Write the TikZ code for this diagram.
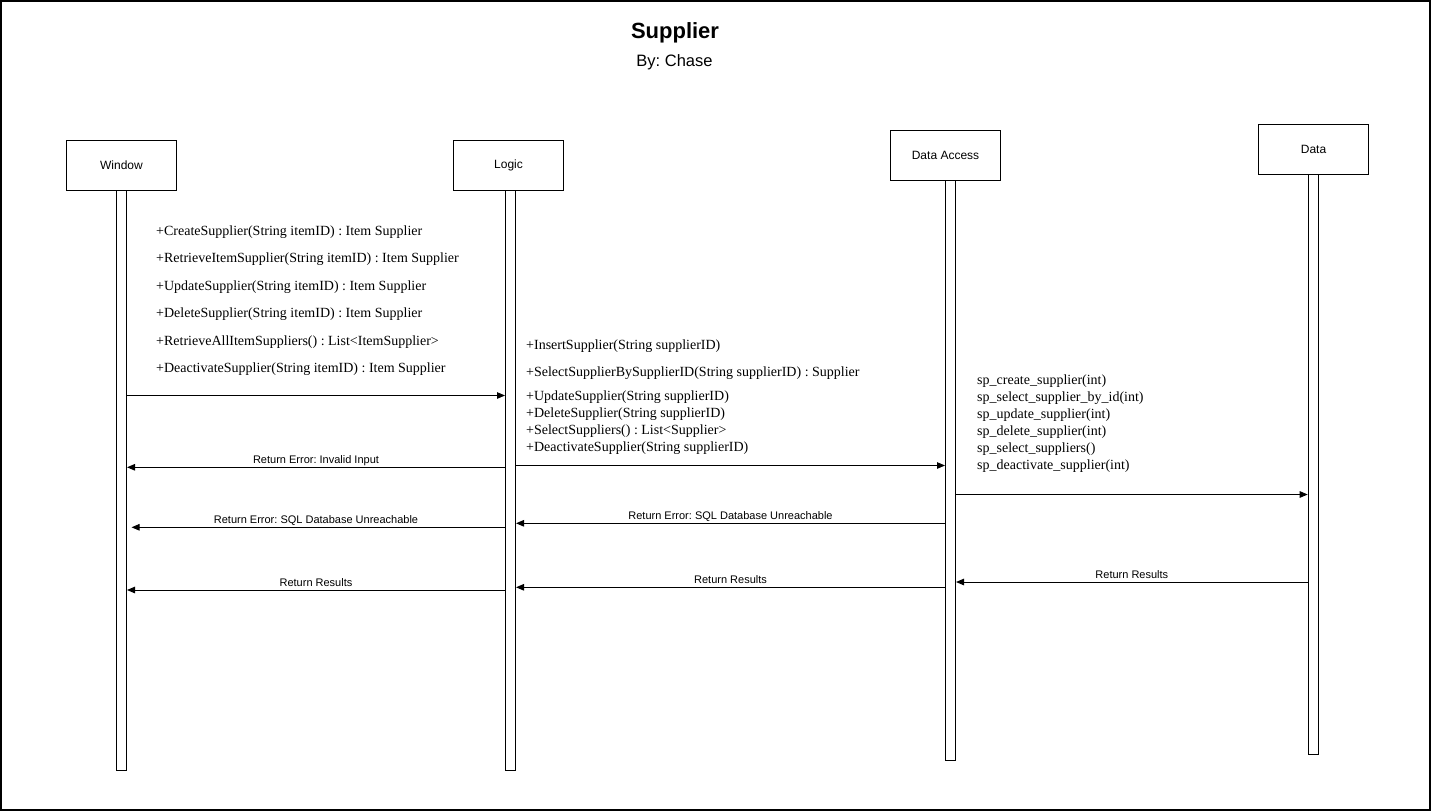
\documentclass[tikz,border=0pt]{standalone}
\usepackage{fontspec}
\setmainfont{Liberation Serif}
\setsansfont{Liberation Sans}
\usetikzlibrary{arrows.meta}
\frenchspacing
\begin{document}
\begin{tikzpicture}[x=1pt,y=-1pt,
  actor/.style={draw, line width=1pt, minimum width=110pt, minimum height=50pt,
    inner sep=0pt, anchor=north west, font=\sffamily\fontsize{12}{14}\selectfont},
  lifebar/.style={draw, line width=1pt, fill=white, minimum width=10pt,
    inner sep=0pt, anchor=north},
  msg/.style={line width=1pt, -{Triangle[length=8pt,width=6.5pt]}},
  lbl/.style={font=\sffamily\fontsize{11}{13}\selectfont, inner sep=0pt,
    anchor=base, midway, yshift=4pt},
  op/.style={font=\fontsize{14}{16}\selectfont, inner sep=0pt, anchor=base west},
]
% page frame
\draw[line width=2pt, fill=white] (1,1) rectangle (1430,810);
\useasboundingbox (0,0) rectangle (1431,811);

% heading
\node[font=\sffamily\bfseries\fontsize{22}{26}\selectfont, anchor=base, inner sep=0pt]
  (title) at (675,38.3) {Supplier};
\node[font=\sffamily\fontsize{16.5}{19}\selectfont, anchor=base, inner sep=0pt]
  (author) at (674.5,66.5) {By: Chase};

% participants
\node[actor] (win)  at (66,140)   {Window};
\node[actor] (log)  at (453,140)  {Logic};
\node[actor] (dacc) at (890,130)  {Data Access};
\node[actor] (dat)  at (1258,124) {Data};

% lifelines
\node[lifebar, minimum height=580pt] (wbar) at (121.5,190)  {};
\node[lifebar, minimum height=580pt] (lbar) at (510.5,190)  {};
\node[lifebar, minimum height=580pt] (abar) at (950.5,180)  {};
\node[lifebar, minimum height=580pt] (dbar) at (1313.2,174) {};

% Window operations
\node[op] (w1) at (156,235.5) {+CreateSupplier(String itemID) : Item Supplier};
\node[op] (w2) at (156,262.5) {+RetrieveItemSupplier(String itemID) : Item Supplier};
\node[op] (w3) at (156,290)   {+UpdateSupplier(String itemID) : Item Supplier};
\node[op] (w4) at (156,317.5) {+DeleteSupplier(String itemID) : Item Supplier};
\node[op] (w5) at (156,345)   {+RetrieveAllItemSuppliers() : List<ItemSupplier>};
\node[op] (w6) at (156,372.5) {+DeactivateSupplier(String itemID) : Item Supplier};

% Logic operations
\node[op] (l1) at (526,349.5) {+InsertSupplier(String supplierID)};
\node[op] (l2) at (526,376)   {+SelectSupplierBySupplierID(String supplierID) : Supplier};
\node[op] (l3) at (526,400.5) {+UpdateSupplier(String supplierID)};
\node[op] (l4) at (526,417.5) {+DeleteSupplier(String supplierID)};
\node[op] (l5) at (526,434.5) {+SelectSuppliers() : List<Supplier>};
\node[op] (l6) at (526,451.5) {+DeactivateSupplier(String supplierID)};

% stored procedures
\node[op] (s1) at (977,384.5) {sp\_create\_supplier(int)};
\node[op] (s2) at (977,401.5) {sp\_select\_supplier\_by\_id(int)};
\node[op] (s3) at (977,418.5) {sp\_update\_supplier(int)};
\node[op] (s4) at (977,435.5) {sp\_delete\_supplier(int)};
\node[op] (s5) at (977,452.5) {sp\_select\_suppliers()};
\node[op] (s6) at (977,469.5) {sp\_deactivate\_supplier(int)};

% calls
\draw[msg] (wbar.east |- 0,395.5) -- (lbar.west |- 0,395.5);
\draw[msg] (lbar.east |- 0,465.5) -- (abar.west |- 0,465.5);
\draw[msg] (abar.east |- 0,494.5) -- (dbar.west |- 0,494.5);

% returns
\draw[msg] (lbar.west |- 0,467.3) -- (wbar.east |- 0,467.3)
  node[lbl] {Return Error: Invalid Input};
\draw[msg] (abar.west |- 0,523.3) -- (lbar.east |- 0,523.3)
  node[lbl] {Return Error: SQL Database Unreachable};
\draw[msg, shorten >=4.5pt] (lbar.west |- 0,527.3) -- (wbar.east |- 0,527.3)
  node[lbl] {Return Error: SQL Database Unreachable};
\draw[msg] (dbar.west |- 0,582) -- (abar.east |- 0,582)
  node[lbl] {Return Results};
\draw[msg] (abar.west |- 0,587.3) -- (lbar.east |- 0,587.3)
  node[lbl] {Return Results};
\draw[msg] (lbar.west |- 0,590) -- (wbar.east |- 0,590)
  node[lbl] {Return Results};
\end{tikzpicture}
\end{document}
